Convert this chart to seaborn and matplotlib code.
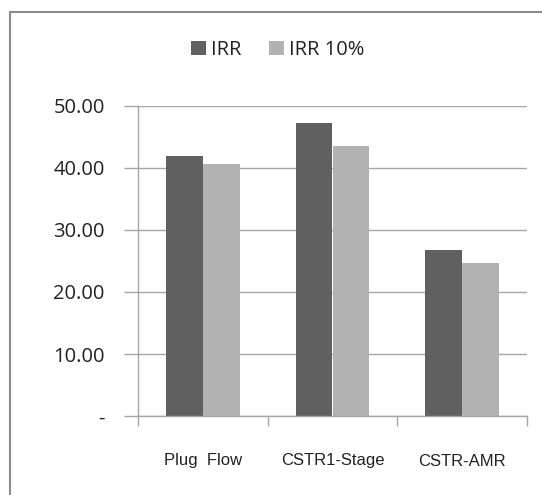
import matplotlib
matplotlib.use("Agg")
import matplotlib.pyplot as plt
from matplotlib.lines import Line2D
from matplotlib.ticker import FixedLocator
import pandas as pd
import seaborn as sns

categories = ["Plug  Flow", "CSTR1-Stage", "CSTR-AMR"]
irr = [41.9, 47.2, 26.8]
irr_10 = [40.65, 43.6, 24.7]
series_names = ["IRR", "IRR 10%"]
y_ticks = [0, 10, 20, 30, 40, 50]
y_labels = ["-", "10.00", "20.00", "30.00", "40.00", "50.00"]

df = pd.DataFrame({
    "category": categories * 2,
    "value": irr + irr_10,
    "series": [series_names[0]] * 3 + [series_names[1]] * 3,
})

sns.set_style("white")
grid_col = "#a6a6a6"

fig = plt.figure(figsize=(5.42, 4.95), dpi=100)
ax = fig.add_axes([138 / 542, 1 - 416 / 495, (527 - 138) / 542, (416 - 106) / 495])

sns.barplot(data=df, x="category", y="value", hue="series",
            palette=["#606060", "#b2b2b2"], width=0.57, gap=0,
            saturation=1, linewidth=0, ax=ax, legend=True)

ax.set_xlim(-0.5, 2.5)
ax.set_ylim(0, 50)
ax.set_yticks(y_ticks)
ax.set_yticklabels(y_labels, fontfamily="Open Sans", fontsize=14.5, color="#222222")
ax.yaxis.grid(True, color=grid_col, linewidth=1)
ax.set_axisbelow(True)
ax.set_xlabel("")
ax.set_ylabel("")

# category ticks sit at the boundaries like in Excel
ax.xaxis.set_major_locator(FixedLocator([0, 1, 2]))
ax.set_xticklabels(categories, fontfamily="Liberation Sans", fontsize=12, color="#222222")
ax.xaxis.set_minor_locator(FixedLocator([-0.5, 0.5, 1.5, 2.5]))
ax.tick_params(axis="x", which="major", length=0, pad=27)
ax.tick_params(axis="x", which="minor", length=7, width=1, color=grid_col, direction="out", bottom=True)
ax.tick_params(axis="y", length=10, width=1, color=grid_col, direction="out", left=True, pad=14)

for s in ["top", "right"]:
    ax.spines[s].set_visible(False)
for s in ["left", "bottom"]:
    ax.spines[s].set_color(grid_col)
    ax.spines[s].set_linewidth(1)

leg = ax.legend(loc="center", bbox_to_anchor=(0.512, 1 - 50 / 495), bbox_transform=fig.transFigure,
                ncol=2, frameon=False, handlelength=0.75, handleheight=0.75, handletextpad=0.25,
                columnspacing=1.35, prop={"family": "Open Sans", "size": 14.5})
for t in leg.get_texts():
    t.set_color("#222222")

# outer chart border (left and top only visible)
border = "#8c8c8c"
fig.add_artist(Line2D([10 / 542, 10 / 542], [0, 1 - 12 / 495], color=border, linewidth=1.5, transform=fig.transFigure))
fig.add_artist(Line2D([10 / 542, 1], [1 - 12 / 495, 1 - 12 / 495], color=border, linewidth=1.5, transform=fig.transFigure))

fig.savefig("out.png", dpi=100)
